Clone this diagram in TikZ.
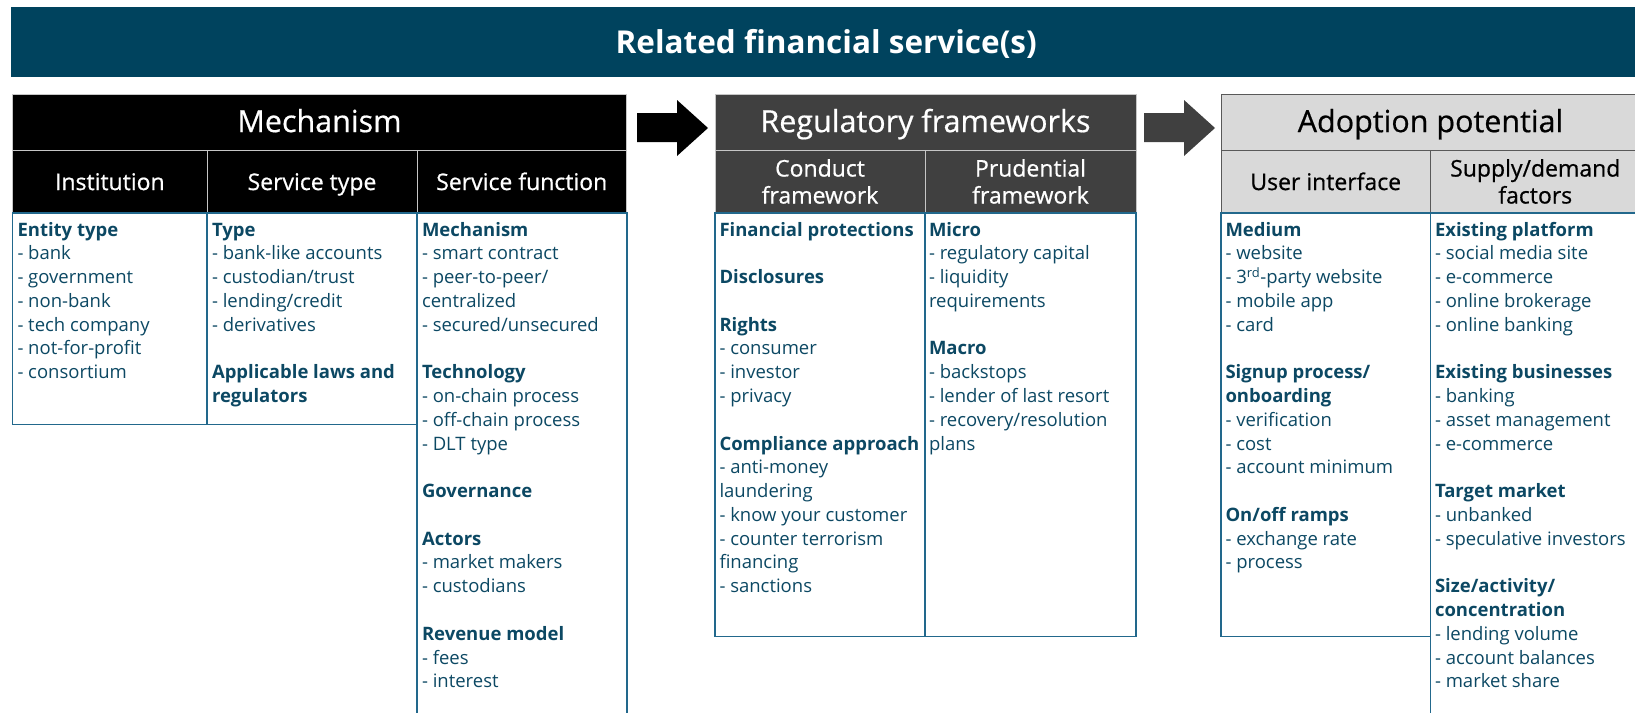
\documentclass[tikz,border=0pt]{standalone}
\usepackage{fontspec}
\setmainfont{Open Sans}
\newfontfamily\hdrfont[FakeBold=0.6]{Open Sans}
\definecolor{bannerblue}{RGB}{0,67,94}
\definecolor{txtblue}{RGB}{12,72,99}
\definecolor{boxblue}{RGB}{34,104,140}
\definecolor{regdark}{RGB}{64,64,64}
\definecolor{lightgr}{RGB}{217,217,217}
\def\gp{23.78pt}
\newcommand\topl{\rule{0pt}{19pt}}
\newcommand\botl{\rule[-2.6pt]{0pt}{2.6pt}}
\begin{document}
\begin{tikzpicture}[x=1pt,y=-1pt,
  cell/.style={rectangle, inner sep=0pt, outer sep=0pt, anchor=north west},
  banner/.style={cell, fill=bannerblue, text=white, font=\bfseries\fontsize{31.5}{36}\selectfont, text height=24pt, text depth=1.5pt},
  mechhead/.style={cell, fill=black, draw=gray!45, line width=0.8pt, text=white},
  reghead/.style={cell, fill=regdark, draw=gray!45, line width=0.8pt, text=white},
  adohead/.style={cell, fill=lightgr, draw=black!65, line width=0.8pt, text=black},
  bigtitle/.style={font=\hdrfont\fontsize{30.5}{36}\selectfont, text height=23.5pt, text depth=4pt},
  subtitle/.style={font=\hdrfont\fontsize{23}{27}\selectfont, align=center},
  oneline/.style={text height=17.5pt, text depth=1.1pt},
  bodybox/.style={cell, draw=boxblue, line width=1.2pt},
  itemlist/.style={anchor=north west, inner sep=0pt, outer sep=0pt, align=left, text=txtblue, font=\fontsize{18.5}{23.78}\selectfont},
  blockarrow/.style={line join=miter}
]
\useasboundingbox (0,0) rectangle (1635,712);
\clip (0,0) rectangle (1635,712);

% banner
\node[banner, minimum width=1631, minimum height=70] (banner) at (10.7,7) {Related financial service(s)};

% Mechanism
\node[mechhead, bigtitle, minimum width=613.5, minimum height=56.7] (mech) at (12.7,94) {Mechanism};
\node[mechhead, subtitle, oneline, minimum width=194.3, minimum height=62.3] (inst) at (12.7,150.7) {Institution};
\node[mechhead, subtitle, oneline, minimum width=210, minimum height=62.3] (stype) at (207,150.7) {Service type};
\node[mechhead, subtitle, oneline, minimum width=209.5, minimum height=62.3] (sfunc) at (417,150.7) {Service function};
\node[bodybox, minimum width=194.3, minimum height=211.5] (instb) at (12.7,213) {};
\node[bodybox, minimum width=210, minimum height=211.5] (stypeb) at (207,213) {};
\node[bodybox, minimum width=210, minimum height=520] (sfuncb) at (417,213) {};

% Regulatory
\node[reghead, bigtitle, minimum width=421, minimum height=56.7] (reg) at (715,94) {Regulatory frameworks};
\node[reghead, subtitle, minimum width=210, minimum height=62.3] (cond) at (715,150.7) {\topl Conduct\\framework\botl};
\node[reghead, subtitle, minimum width=211, minimum height=62.3] (prud) at (925,150.7) {\topl Prudential\\framework\botl};
\node[bodybox, minimum width=210, minimum height=423.7] (condb) at (715,213) {};
\node[bodybox, minimum width=211, minimum height=423.7] (prudb) at (925,213) {};

% Adoption
\node[adohead, bigtitle, minimum width=419, minimum height=56.7] (ado) at (1221,94) {Adoption potential};
\node[adohead, subtitle, oneline, minimum width=209.5, minimum height=62.3] (ui) at (1221,150.7) {User interface};
\node[adohead, subtitle, minimum width=209.5, minimum height=62.3] (sd) at (1430.5,150.7) {\topl Supply/demand\\factors\botl};
\node[bodybox, minimum width=209.5, minimum height=423.7] (uib) at (1221,213) {};
\node[bodybox, minimum width=209.5, minimum height=520] (sdb) at (1430.5,213) {};

% arrows
\fill[black, blockarrow] (637,113) -- (677,113) -- (677,100) -- (708,128) -- (677,156) -- (677,142) -- (637,142) -- cycle;
\fill[regdark, blockarrow] (1144,113) -- (1184,113) -- (1184,100) -- (1215,128) -- (1184,156) -- (1184,142) -- (1144,142) -- cycle;

% lists
\node[itemlist] (instl) at (17.5,221) {\rule{0pt}{15pt}\textbf{Entity type}\\- bank\\- government\\- non-bank\\- tech company\\- not-for-profit\\- consortium};

\node[itemlist] (stypel) at (212,221) {\rule{0pt}{15pt}\textbf{Type}\\- bank-like accounts\\- custodian/trust\\- lending/credit\\- derivatives\\[\gp]\textbf{Applicable laws and}\\\textbf{regulators}};

\node[itemlist] (sfuncl) at (422,221) {\rule{0pt}{15pt}\textbf{Mechanism}\\- smart contract\\- peer-to-peer/\\centralized\\- secured/unsecured\\[\gp]\textbf{Technology}\\- on-chain process\\- off-chain process\\- DLT type\\[\gp]\textbf{Governance}\\[\gp]\textbf{Actors}\\- market makers\\- custodians\\[\gp]\textbf{Revenue model}\\- fees\\- interest};

\node[itemlist] (condl) at (719.5,221) {\rule{0pt}{15pt}\textbf{Financial protections}\\[\gp]\textbf{Disclosures}\\[\gp]\textbf{Rights}\\- consumer\\- investor\\- privacy\\[\gp]\textbf{Compliance approach}\\- anti-money\\laundering\\- know your customer\\- counter terrorism\\financing\\- sanctions};

\node[itemlist] (prudl) at (929,221) {\rule{0pt}{15pt}\textbf{Micro}\\- regulatory capital\\- liquidity\\requirements\\[\gp]\textbf{Macro}\\- backstops\\- lender of last resort\\- recovery/resolution\\plans};

\node[itemlist] (uil) at (1225.5,221) {\rule{0pt}{15pt}\textbf{Medium}\\- website\\- 3\textsuperscript{rd}-party website\\- mobile app\\- card\\[\gp]\textbf{Signup process/}\\\textbf{onboarding}\\- verification\\- cost\\- account minimum\\[\gp]\textbf{On/off ramps}\\- exchange rate\\- process};

\node[itemlist] (sdl) at (1435,221) {\rule{0pt}{15pt}\textbf{Existing platform}\\- social media site\\- e-commerce\\- online brokerage\\- online banking\\[\gp]\textbf{Existing businesses}\\- banking\\- asset management\\- e-commerce\\[\gp]\textbf{Target market}\\- unbanked\\- speculative investors\\[\gp]\textbf{Size/activity/}\\\textbf{concentration}\\- lending volume\\- account balances\\- market share};
\end{tikzpicture}
\end{document}
